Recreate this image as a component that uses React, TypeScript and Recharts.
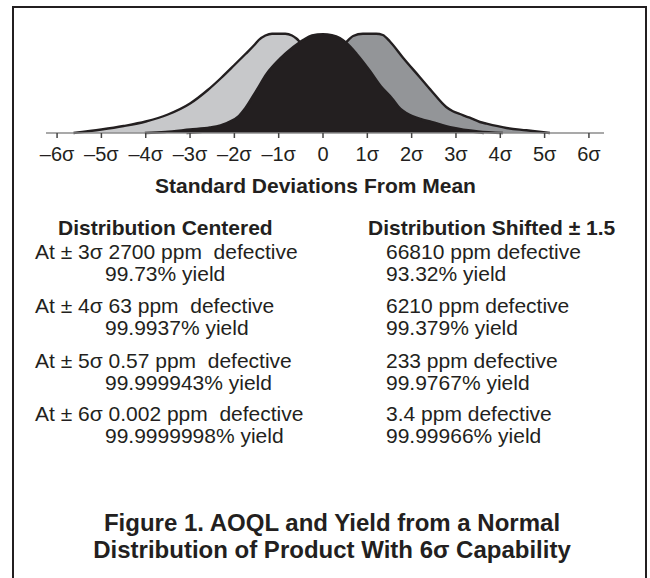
import { AreaChart, Area, XAxis, YAxis } from "recharts"

// curve outlines: sigma position -> height (0..100)
const lightSigma = [-5.63, -5.0, -4.5, -4.0, -3.5, -3.0, -2.6, -2.3, -2.0, -1.75, -1.55, -1.45, -1.3, -1.15, -0.85, -0.7, -0.6, -0.5, -0.2, 0.2, 0.55, 1.0, 1.5, 2.0, 2.5, 3.0, 3.63]
const lightH = [0, 3.5, 7, 11.5, 18.5, 29.5, 43, 55, 68, 79, 88, 93, 97.5, 99.3, 99.3, 97.5, 94.5, 90, 78, 62, 44, 29.5, 18.5, 11.5, 7, 3.5, 0]

const blackSigma = [-4.02, -3.56, -3.0, -2.55, -2.17, -1.9, -1.75, -1.5, -1.27, -0.97, -0.67, -0.44, -0.25, 0.0, 0.2, 0.38, 0.53, 0.76, 1.06, 1.3, 1.55, 1.75, 1.9, 2.2, 2.45, 2.9, 3.5, 4.06]
const blackH = [0, 1, 3.5, 5.5, 10, 17, 25, 42.7, 59.3, 74.3, 86, 93.3, 97.5, 98.7, 97.8, 95, 90, 79, 62, 47, 35, 24, 19.5, 14, 11, 5.5, 1.5, 0]

const darkSigma = [-3.08, -2.1, -1.27, -0.74, -0.44, -0.14, 0.23, 0.53, 0.68, 0.9, 1.2, 1.35, 1.51, 1.81, 2.18, 2.45, 2.78, 2.93, 3.09, 3.31, 3.54, 3.69, 4.14, 4.59, 5.12]
const darkH = [0, 5, 15.3, 25.3, 37.7, 52.7, 74, 91, 97, 99.3, 99.3, 98, 91.5, 75, 56, 42, 26, 21.7, 19, 15.3, 11, 9.3, 5, 2.7, 0]

const sigmaTicks = [-6, -5, -4, -3, -2, -1, 0, 1, 2, 3, 4, 5, 6]

const centeredRows = [
  ["At \u00b1 3\u03c3 2700 ppm  defective", "99.73% yield"],
  ["At \u00b1 4\u03c3 63 ppm  defective", "99.9937% yield"],
  ["At \u00b1 5\u03c3 0.57 ppm  defective", "99.999943% yield"],
  ["At \u00b1 6\u03c3 0.002 ppm  defective", "99.9999998% yield"],
]
const shiftedRows = [
  ["66810 ppm defective", "93.32% yield"],
  ["6210 ppm defective", "99.379% yield"],
  ["233 ppm defective", "99.9767% yield"],
  ["3.4 ppm defective", "99.99966% yield"],
]
const rowTops = [252, 306, 361, 414]

type Row = { s: number; light?: number; black?: number; dark?: number }

function buildTable(): Row[] {
  const map = new Map<number, Row>()
  const put = (xs: number[], ys: number[], key: "light" | "black" | "dark") => {
    xs.forEach((s, i) => {
      const r = map.get(s) ?? { s }
      r[key] = ys[i]
      map.set(s, r)
    })
  }
  put(lightSigma, lightH, "light")
  put(blackSigma, blackH, "black")
  put(darkSigma, darkH, "dark")
  return Array.from(map.values()).sort((a, b) => a.s - b.s)
}

const data = buildTable()
const INK = "#231f20"
const font = "'Liberation Sans', Arial, sans-serif"

const fmtTick = (v: number) => (v === 0 ? "0" : v < 0 ? `\u2013${-v}\u03c3` : `${v}\u03c3`)

function Txt({ x, y, size = 21, bold = false, children }: { x: number; y: number; size?: number; bold?: boolean; children: React.ReactNode }) {
  return (
    <div
      style={{
        position: "absolute",
        left: x,
        top: y - 12,
        fontSize: size,
        lineHeight: "24px",
        fontWeight: bold ? 700 : 400,
        whiteSpace: "pre",
        color: INK,
      }}
    >
      {children}
    </div>
  )
}

export default function App() {
  return (
    <div style={{ position: "absolute", left: 0, top: 0, width: 650, height: 578, overflow: "hidden", background: "#fff", fontFamily: font }}>
      <div
        style={{
          position: "absolute",
          left: 12,
          top: 6,
          width: 631,
          height: 640,
          border: `2.5px solid ${INK}`,
        }}
      />
      <div style={{ position: "absolute", left: 0, top: 0 }}>
        <AreaChart width={650} height={178} data={data} margin={{ top: 33, right: 46, left: 46, bottom: 0 }}>
          <XAxis
            type="number"
            dataKey="s"
            domain={[-6.25, 6.34]}
            ticks={sigmaTicks}
            allowDataOverflow
            tickFormatter={fmtTick}
            height={45}
            tickSize={5}
            tickMargin={9}
            stroke="#8c8c8c"
            strokeWidth={1.5}
            tickLine={{ stroke: "#444" }}
            tick={{ fill: INK, fontSize: 20, fontFamily: font }}
          />
          <YAxis hide domain={[0, 100]} />
          <Area type="monotone" dataKey="dark" connectNulls stroke={INK} strokeWidth={2.4} fill="#939598" fillOpacity={1} isAnimationActive={false} />
          <Area type="monotone" dataKey="light" connectNulls stroke={INK} strokeWidth={2.4} fill="#c7c8ca" fillOpacity={1} isAnimationActive={false} />
          <Area type="monotone" dataKey="black" connectNulls stroke={INK} strokeWidth={2.4} fill={INK} fillOpacity={1} isAnimationActive={false} />
        </AreaChart>
      </div>

      <Txt x={155} y={186} bold>Standard Deviations From Mean</Txt>
      <Txt x={58} y={228} bold>Distribution Centered</Txt>
      <Txt x={368} y={228} bold>Distribution Shifted {"\u00b1"} 1.5</Txt>

      {centeredRows.map((r, i) => (
        <div key={`c${i}`}>
          <Txt x={35} y={rowTops[i]}>{r[0]}</Txt>
          <Txt x={105} y={rowTops[i] + 22}>{r[1]}</Txt>
        </div>
      ))}
      {shiftedRows.map((r, i) => (
        <div key={`s${i}`}>
          <Txt x={386} y={rowTops[i]}>{r[0]}</Txt>
          <Txt x={386} y={rowTops[i] + 22}>{r[1]}</Txt>
        </div>
      ))}

      <div
        style={{
          position: "absolute",
          left: 18,
          width: 628,
          top: 509,
          textAlign: "center",
          fontSize: 24,
          lineHeight: "27px",
          fontWeight: 700,
          color: INK,
        }}
      >
        Figure 1. AOQL and Yield from a Normal
        <br />
        Distribution of Product With 6{"\u03c3"} Capability
      </div>
    </div>
  )
}
